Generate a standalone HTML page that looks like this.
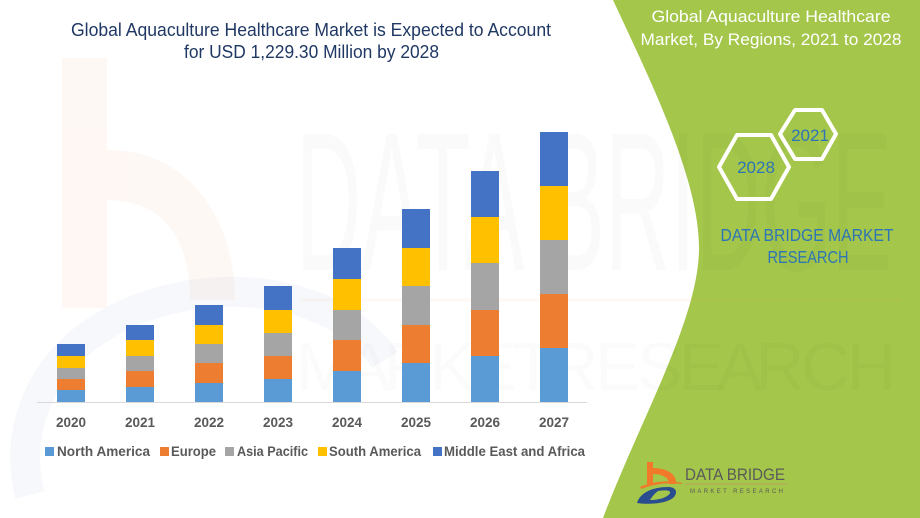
<!DOCTYPE html>
<html>
<head>
<meta charset="utf-8">
<style>
  html,body{margin:0;padding:0;background:#fff;width:920px;height:518px;overflow:hidden;}
  svg{display:block;}
  text{font-family:"Liberation Sans",sans-serif;}
</style>
</head>
<body>
<svg width="920" height="518" viewBox="0 0 920 518" xmlns="http://www.w3.org/2000/svg">
  <rect x="0" y="0" width="920" height="518" fill="#ffffff"/>

  <!-- faint left watermark logo -->
  <g opacity="0.045">
    <rect x="62" y="58" width="45" height="250" fill="#f26522"/>
    <path d="M107,150 C190,150 235,220 235,300 L190,300 C190,235 160,200 107,200 Z" fill="#f26522"/>
  </g>
  <path d="M30,495 C10,420 50,320 190,295 C290,280 360,320 385,360" fill="none" stroke="#2f5597" stroke-opacity="0.04" stroke-width="30"/>

  <!-- green panel -->
  <path d="M613,0 C650,80 700,180 699,250 C698,320 640,420 603,518 L920,518 L920,0 Z" fill="#a4c64a"/>

  <!-- big watermark text -->
  <text x="296" y="270" font-size="198" textLength="596" lengthAdjust="spacingAndGlyphs" fill="#000" fill-opacity="0.018">DATA BRIDGE</text>
  <line x1="300" y1="300" x2="900" y2="300" stroke="#f4b183" stroke-opacity="0.08" stroke-width="3"/>
  <text x="296" y="390" font-size="68" textLength="600" lengthAdjust="spacing" fill="#000" fill-opacity="0.015">M A R K E T R E S E A R C H</text>

  <!-- title -->
  <text x="71" y="36" font-size="18" fill="#203864" textLength="480" lengthAdjust="spacingAndGlyphs">Global Aquaculture Healthcare Market is Expected to Account</text>
  <text x="184" y="58" font-size="18" fill="#203864" textLength="255" lengthAdjust="spacingAndGlyphs">for USD 1,229.30 Million by 2028</text>

  <!-- axis -->
  <line x1="37" y1="402.5" x2="587" y2="402.5" stroke="#d9d9d9" stroke-width="1"/>

  <!-- bars -->
  <g>
    <rect x="57" y="390" width="28" height="12" fill="#5b9bd5"/>
    <rect x="57" y="379" width="28" height="11" fill="#ed7d31"/>
    <rect x="57" y="368" width="28" height="11" fill="#a5a5a5"/>
    <rect x="57" y="356" width="28" height="12" fill="#ffc000"/>
    <rect x="57" y="344" width="28" height="12" fill="#4472c4"/>

    <rect x="126" y="387" width="28" height="15" fill="#5b9bd5"/>
    <rect x="126" y="371" width="28" height="16" fill="#ed7d31"/>
    <rect x="126" y="356" width="28" height="15" fill="#a5a5a5"/>
    <rect x="126" y="340" width="28" height="16" fill="#ffc000"/>
    <rect x="126" y="325" width="28" height="15" fill="#4472c4"/>

    <rect x="195" y="383" width="28" height="19" fill="#5b9bd5"/>
    <rect x="195" y="363" width="28" height="20" fill="#ed7d31"/>
    <rect x="195" y="344" width="28" height="19" fill="#a5a5a5"/>
    <rect x="195" y="325" width="28" height="19" fill="#ffc000"/>
    <rect x="195" y="305" width="28" height="20" fill="#4472c4"/>

    <rect x="264" y="379" width="28" height="23" fill="#5b9bd5"/>
    <rect x="264" y="356" width="28" height="23" fill="#ed7d31"/>
    <rect x="264" y="333" width="28" height="23" fill="#a5a5a5"/>
    <rect x="264" y="310" width="28" height="23" fill="#ffc000"/>
    <rect x="264" y="286" width="28" height="24" fill="#4472c4"/>

    <rect x="333" y="371" width="28" height="31" fill="#5b9bd5"/>
    <rect x="333" y="340" width="28" height="31" fill="#ed7d31"/>
    <rect x="333" y="310" width="28" height="30" fill="#a5a5a5"/>
    <rect x="333" y="279" width="28" height="31" fill="#ffc000"/>
    <rect x="333" y="248" width="28" height="31" fill="#4472c4"/>

    <rect x="402" y="363" width="28" height="39" fill="#5b9bd5"/>
    <rect x="402" y="325" width="28" height="38" fill="#ed7d31"/>
    <rect x="402" y="286" width="28" height="39" fill="#a5a5a5"/>
    <rect x="402" y="248" width="28" height="38" fill="#ffc000"/>
    <rect x="402" y="209" width="28" height="39" fill="#4472c4"/>

    <rect x="471" y="356" width="28" height="46" fill="#5b9bd5"/>
    <rect x="471" y="310" width="28" height="46" fill="#ed7d31"/>
    <rect x="471" y="263" width="28" height="47" fill="#a5a5a5"/>
    <rect x="471" y="217" width="28" height="46" fill="#ffc000"/>
    <rect x="471" y="171" width="28" height="46" fill="#4472c4"/>

    <rect x="540" y="348" width="28" height="54" fill="#5b9bd5"/>
    <rect x="540" y="294" width="28" height="54" fill="#ed7d31"/>
    <rect x="540" y="240" width="28" height="54" fill="#a5a5a5"/>
    <rect x="540" y="186" width="28" height="54" fill="#ffc000"/>
    <rect x="540" y="132" width="28" height="54" fill="#4472c4"/>
  </g>

  <!-- x labels -->
  <g font-size="13.5" font-weight="bold" fill="#595959" text-anchor="middle">
    <text x="71" y="427">2020</text>
    <text x="140" y="427">2021</text>
    <text x="209" y="427">2022</text>
    <text x="278" y="427">2023</text>
    <text x="347" y="427">2024</text>
    <text x="416" y="427">2025</text>
    <text x="485" y="427">2026</text>
    <text x="554" y="427">2027</text>
  </g>

  <!-- legend -->
  <g font-size="13.5" font-weight="bold" fill="#595959">
    <rect x="45" y="447" width="9" height="9" fill="#5b9bd5"/>
    <text x="57" y="456" textLength="93" lengthAdjust="spacingAndGlyphs">North America</text>
    <rect x="160" y="447" width="9" height="9" fill="#ed7d31"/>
    <text x="171" y="456" textLength="45" lengthAdjust="spacingAndGlyphs">Europe</text>
    <rect x="225" y="447" width="9" height="9" fill="#a5a5a5"/>
    <text x="237" y="456" textLength="71" lengthAdjust="spacingAndGlyphs">Asia Pacific</text>
    <rect x="318" y="447" width="9" height="9" fill="#ffc000"/>
    <text x="329" y="456" textLength="92" lengthAdjust="spacingAndGlyphs">South America</text>
    <rect x="433" y="447" width="9" height="9" fill="#4472c4"/>
    <text x="444" y="456" textLength="141" lengthAdjust="spacingAndGlyphs">Middle East and Africa</text>
  </g>

  <!-- right panel title -->
  <g font-size="17" fill="#ffffff" text-anchor="middle">
    <text x="771" y="22" textLength="239" lengthAdjust="spacingAndGlyphs">Global Aquaculture Healthcare</text>
    <text x="771" y="45" textLength="261" lengthAdjust="spacingAndGlyphs">Market, By Regions, 2021 to 2028</text>
  </g>

  <!-- hexagons -->
  <g fill="none" stroke="#ffffff" stroke-width="4" stroke-linejoin="round">
    <path d="M719,167 L737,135 L771,135 L789,167 L771,199 L737,199 Z"/>
    <path d="M780,134 L795,110 L822,110 L836,134 L822,159 L795,159 Z"/>
  </g>
  <g font-size="17" fill="#2e75b6" text-anchor="middle">
    <text x="756" y="173">2028</text>
    <text x="810" y="141">2021</text>
  </g>

  <!-- DATA BRIDGE MARKET RESEARCH -->
  <g font-size="17.5" fill="#2e75b6" text-anchor="middle">
    <text x="807" y="241" textLength="173" lengthAdjust="spacingAndGlyphs">DATA BRIDGE MARKET</text>
    <text x="808" y="263" textLength="81" lengthAdjust="spacingAndGlyphs">RESEARCH</text>
  </g>

  <!-- bottom logo -->
  <g>
    <rect x="647" y="462" width="6" height="22" fill="#f07a2a"/>
    <path d="M653,468 C668,468 677,475 676,484 L669,484 C669,478 663,474 653,474 Z" fill="#f07a2a"/>
    <path d="M640,487 C652,481 670,480 682,483 L682,484 C668,482 654,484 641,489 Z" fill="#f07a2a"/>
    <path d="M637,503 C640,493 652,487 668,487 C676,487 678,492 674,497 C668,503 652,505 637,503 Z M650,500 C660,500 668,497 670,493 C671,490 665,490 658,491 C654,494 652,497 650,500 Z" fill="#2a4d8f" fill-rule="evenodd"/>
    <text x="685" y="480" font-size="17" fill="#5a5a5a" textLength="100" lengthAdjust="spacingAndGlyphs">DATA BRIDGE</text>
    <line x1="685" y1="484" x2="787" y2="484" stroke="#b8a060" stroke-width="1"/>
    <text x="690" y="493" font-size="6" fill="#5a5a5a" textLength="93" lengthAdjust="spacing">MARKET RESEARCH</text>
  </g>
</svg>
</body>
</html>
